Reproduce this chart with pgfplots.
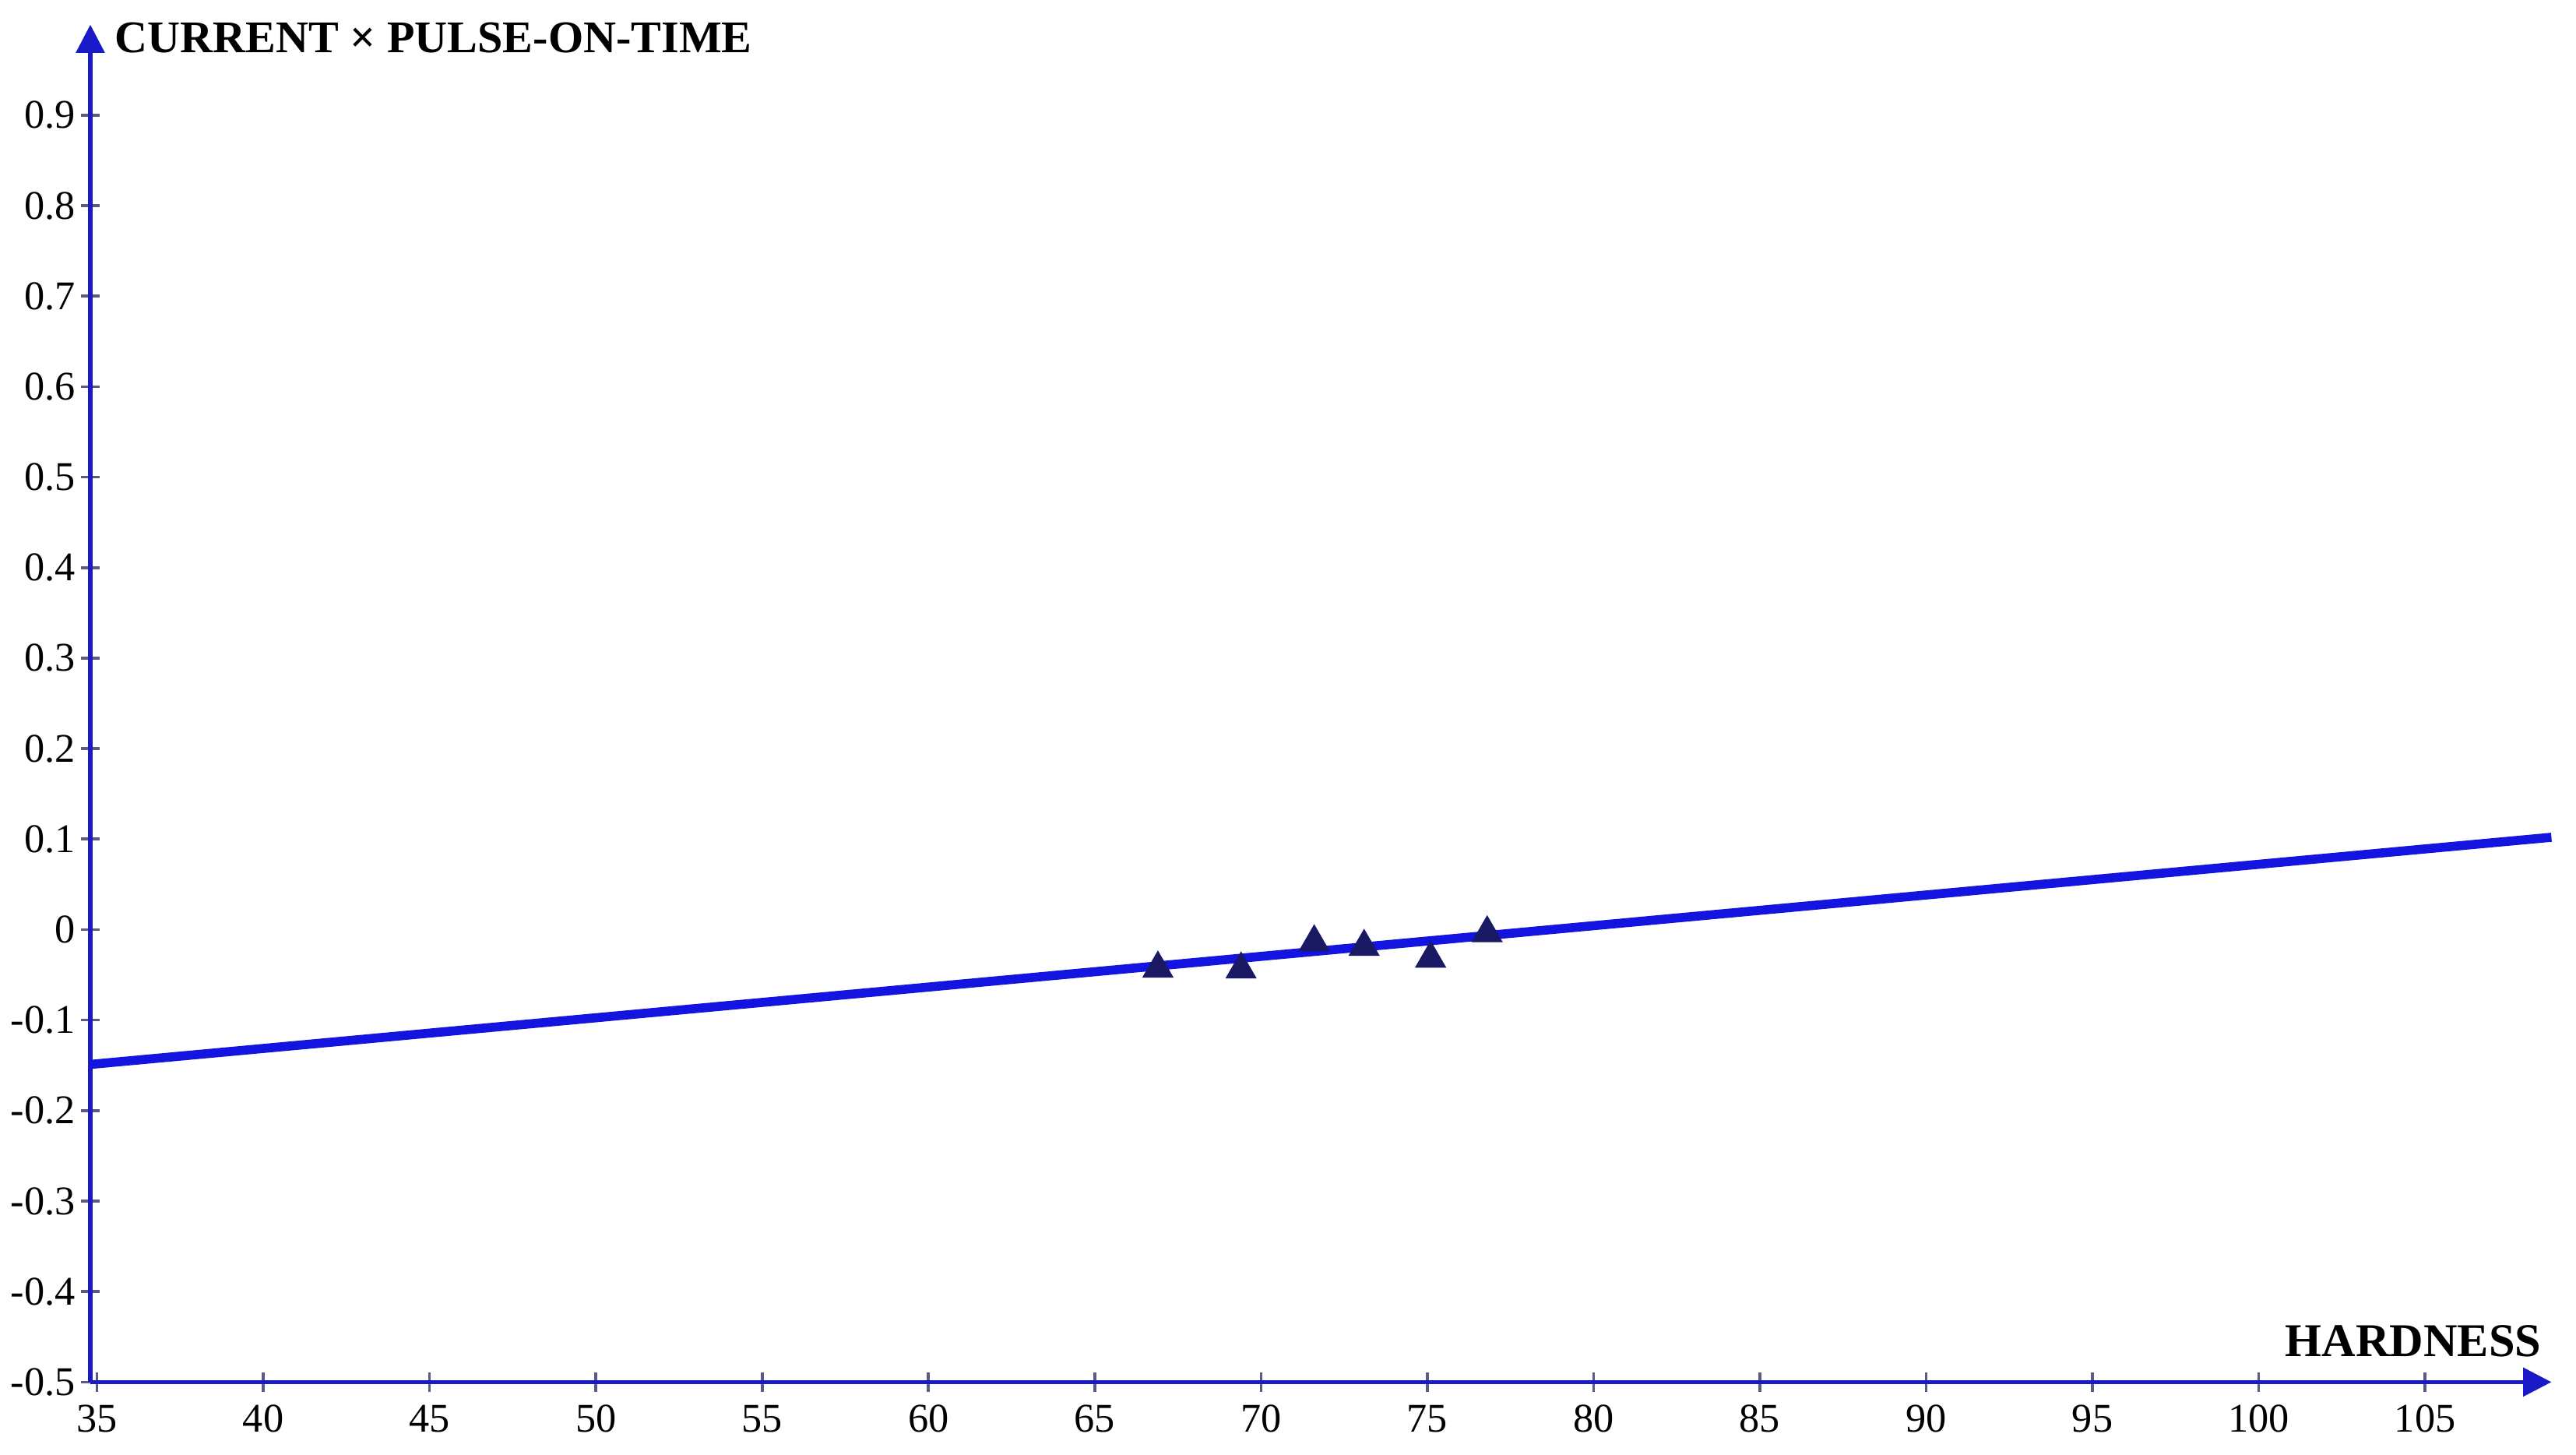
\documentclass[border=0pt]{standalone}
\usepackage{fontspec}
\setmainfont{Liberation Serif}
\usepackage{pgfplots}
\pgfplotsset{compat=1.18}
\usetikzlibrary{arrows.meta,calc}
\definecolor{axblue}{RGB}{25,25,200}
\definecolor{lineblue}{RGB}{20,20,225}
\definecolor{mk}{RGB}{25,25,100}
\definecolor{tickc}{RGB}{90,90,130}
\begin{document}
\begin{tikzpicture}
\begin{axis}[
  scale only axis, width=15.286cm, height=8.429cm,
  xmin=34.8, xmax=108.8, ymin=-0.5, ymax=1.0,
  axis lines=left,
  axis line style={draw=axblue, line width=0.7pt, -{Triangle[width=5pt,length=5pt]}},
  xtick={35,40,...,105},
  ytick={-0.5,-0.4,-0.3,-0.2,-0.1,0,0.1,0.2,0.3,0.4,0.5,0.6,0.7,0.8,0.9},
  yticklabels={-0.5,-0.4,-0.3,-0.2,-0.1,0,0.1,0.2,0.3,0.4,0.5,0.6,0.7,0.8,0.9},
  tick align=center, major tick length=0.12cm,
  tick style={draw=tickc, line width=0.5pt},
  tick label style={font=\fontsize{7.2}{8}\selectfont},
  yticklabel style={xshift=0.09cm},
  xticklabel style={yshift=0.04cm},
  /pgf/number format/assume math mode=true,
  clip=false,
  xlabel={HARDNESS},
  ylabel={CURRENT × PULSE-ON-TIME},
  every axis x label/.style={at={(rel axis cs:1,0)}, anchor=south east, xshift=0.06cm, yshift=0.03cm, font=\bfseries\fontsize{8.3}{10}\selectfont},
  every axis y label/.style={at={(rel axis cs:0,1)}, anchor=west, xshift=0.03cm, yshift=-0.08cm, font=\bfseries\fontsize{8}{10}\selectfont},
]
\addplot[only marks, mark=triangle*, mark size=2.8pt, mark options={draw=mk, fill=mk}] coordinates {
  (66.9,-0.043) (69.4,-0.044) (71.6,-0.014) (73.1,-0.019) (75.1,-0.032) (76.8,-0.004)
};
\addplot[lineblue, line width=1.6pt] coordinates {(34.8,-0.149) (108.8,0.102)};
\end{axis}
\pgfresetboundingbox
\path ($(current axis.south west)+(-0.561cm,-0.449cm)$) rectangle ($(current axis.north east)+(0.153cm,0.153cm)$);
\end{tikzpicture}
\end{document}
